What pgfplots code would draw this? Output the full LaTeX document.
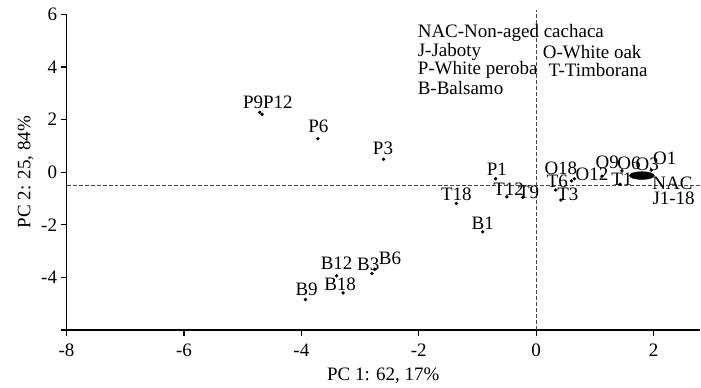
\documentclass[border=0pt]{standalone}
\usepackage{fontspec}
\setmainfont{Liberation Serif}
\usepackage{pgfplots}
\usepackage{pgfplotstable}
\pgfplotsset{compat=1.18}
\pgfplotstableread{
x y
-4.71 2.27
-4.67 2.20
-3.72 1.27
-2.60 0.49
-0.69 -0.25
-1.36 -1.19
-0.50 -0.94
-0.23 -0.96
-0.91 -2.27
0.33 -0.68
0.42 -1.06
0.60 -0.33
0.65 -0.25
1.12 -0.15
1.43 -0.46
1.46 0.05
1.96 0.08
-3.40 -3.94
-3.29 -4.59
-3.93 -4.84
-2.80 -3.85
-2.75 -3.69
}\points
\pgfplotstableread{
x y label
-4.57 2.67 P9P12
-3.71 1.73 P6
-2.61 0.89 P3
-0.67 0.13 P1
-1.36 -0.84 T18
-0.47 -0.63 T12
-0.13 -0.78 T9
-0.91 -1.96 B1
0.42 0.13 O18
0.36 -0.36 T6
0.54 -0.84 T3
0.95 -0.08 O12
1.21 0.38 O9
1.58 0.34 O6
1.89 0.29 O3
1.46 -0.27 T1
2.19 0.51 O1
2.32 -0.44 NAC
2.34 -0.99 J1-18
-3.40 -3.48 B12
-2.86 -3.50 B3
-2.49 -3.29 B6
-3.34 -4.28 B18
-3.91 -4.47 B9
}\labels
\definecolor{dashgray}{RGB}{70,70,70}
\begin{document}
\begin{tikzpicture}
\begin{axis}[
  scale only axis,
  width=634pt, height=316pt,
  xmin=-8, xmax=2.79, ymin=-6, ymax=6,
  axis lines=left,
  axis line style={-, line width=1.3pt, black},
  tick style={line width=1.3pt, black},
  tick align=outside,
  major tick length=6pt,
  xtick={-8,-6,-4,-2,0,2},
  xticklabels={-8,-6,-4,-2,0,2},
  ytick={-6,-4,-2,0,2,4,6},
  yticklabels={,-4,-2,0,2,4,6},
  ticklabel style={font=\fontsize{19}{19}\selectfont},
  xticklabel style={yshift=-4pt},
  label style={font=\fontsize{19}{19}\selectfont},
  xlabel={PC 1: 62, 17\%},
  ylabel={PC 2: 25, 84\%},
  xlabel style={yshift=-5pt},
  ylabel style={yshift=1pt},
  clip=false,
]
\addplot[dashgray, dashed, line width=0.9pt, dash pattern=on 4pt off 2pt] coordinates {(-8,-0.5) (2.79,-0.5)};
\addplot[dashgray, dashed, line width=0.9pt, dash pattern=on 4pt off 2pt] coordinates {(0,-6) (0,6.15)};
\addplot[only marks, mark=*, mark size=1.5pt, black] table[x=x,y=y] {\points};
\addplot[only marks, mark=*, mark size=3.9pt, black, mark options={xscale=3.2}] coordinates {(1.80,-0.13)};
\addplot[only marks, mark=none, nodes near coords, point meta=explicit symbolic,
  nodes near coords align=center,
  every node near coord/.append style={anchor=center, inner sep=0pt, font=\fontsize{19}{19}\selectfont, black}]
  table[x=x,y=y,meta=label] {\labels};
\node[anchor=west, inner sep=0pt, font=\fontsize{19}{19}\selectfont] at (axis cs:-2.02,5.29) {NAC-Non-aged cachaca};
\node[anchor=west, inner sep=0pt, font=\fontsize{19}{19}\selectfont] at (axis cs:-2.02,4.58) {J-Jaboty};
\node[anchor=west, inner sep=0pt, font=\fontsize{19}{19}\selectfont] at (axis cs:-2.02,3.88) {P-White peroba};
\node[anchor=west, inner sep=0pt, font=\fontsize{19}{19}\selectfont] at (axis cs:-2.02,3.19) {B-Balsamo};
\node[anchor=west, inner sep=0pt, font=\fontsize{19}{19}\selectfont] at (axis cs:0.11,4.58) {O-White oak};
\node[anchor=west, inner sep=0pt, font=\fontsize{19}{19}\selectfont] at (axis cs:0.21,3.88) {T-Timborana};
\coordinate (bbsw) at ([xshift=-66.6pt,yshift=-48pt]rel axis cs:0,0);
\coordinate (bbne) at ([xshift=1pt,yshift=14.3pt]rel axis cs:1,1);
\end{axis}
\path (bbsw) rectangle (bbne);
\end{tikzpicture}
\end{document}
